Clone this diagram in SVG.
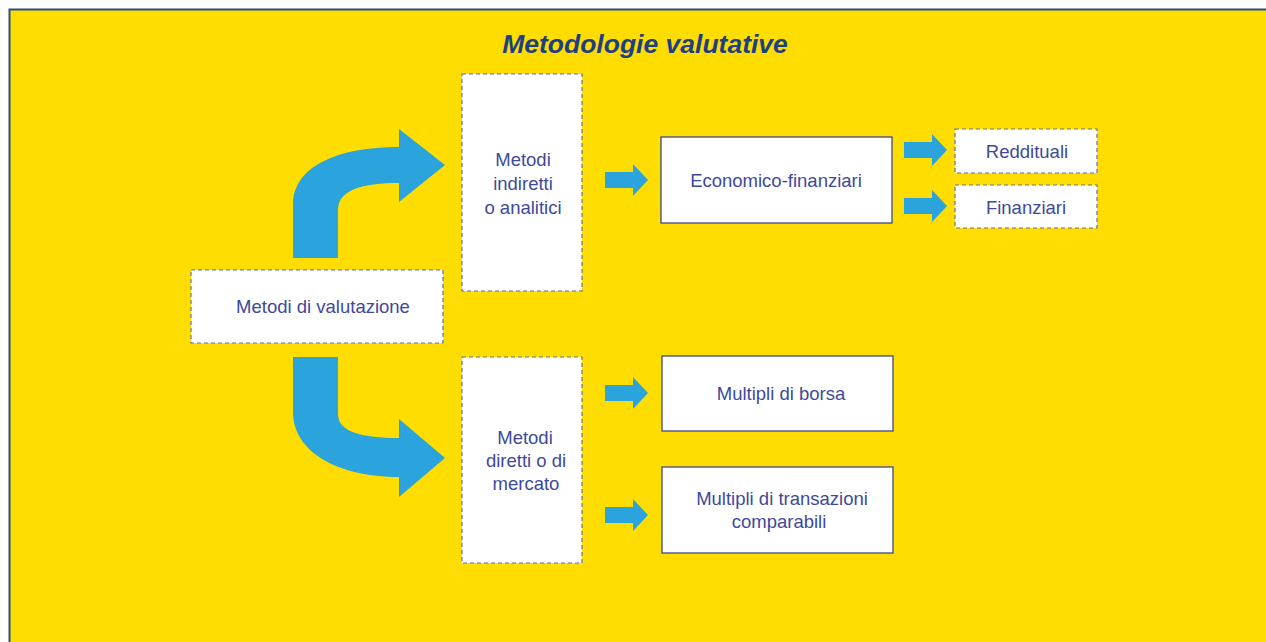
<svg xmlns="http://www.w3.org/2000/svg" width="1266" height="642" viewBox="0 0 1266 642">
<style>
.t{font-family:"Liberation Sans",Arial,sans-serif;font-size:18.5px;fill:#3d4a9c;text-anchor:middle}
.dash{fill:#fff;stroke:#6b6f9e;stroke-width:1.2;stroke-dasharray:4 3}
.solid{fill:#fff;stroke:#3d4a8c;stroke-width:1.3}
.arr{fill:#2ba3dc}
</style>
<defs>
<path id="sa" d="M0,-8 L28,-8 L28,-16 L43,0 L28,16 L28,8 L0,8 Z"/>
</defs>
<rect x="0" y="0" width="1266" height="642" fill="#fff"/>
<rect x="10" y="10" width="1266" height="642" fill="#ffdd00"/>
<path d="M9.5,642 L9.5,9.5 L1266,9.5" fill="none" stroke="#2b4f7e" stroke-width="2"/>
<text x="645" y="53" font-family="'Liberation Sans',Arial,sans-serif" font-size="26.5" font-weight="bold" font-style="italic" fill="#1d3f86" text-anchor="middle">Metodologie valutative</text>

<g id="connectors">
<path class="arr" d="M293,258 L293,205 C293,166 338,147 399,147 L399,129 L445,165 L399,202 L399,183 C362,183 338,190 338,210 L338,258 Z"/>
<path class="arr" d="M293,357 L293,412 C293,452 338,477 399,477 L399,497 L445,458 L399,419 L399,438 C362,438 338,432 338,414 L338,357 Z"/>
<use href="#sa" class="arr" x="605" y="180"/>
<use href="#sa" class="arr" x="904" y="150"/>
<use href="#sa" class="arr" x="904" y="206"/>
<use href="#sa" class="arr" x="605" y="393"/>
<use href="#sa" class="arr" x="605" y="515"/>
</g>

<g id="n-valutazione">
<rect class="dash" x="191" y="270" width="252" height="73"/>
<text class="t" x="323" y="313">Metodi di valutazione</text>
</g>
<g id="n-indiretti">
<rect class="dash" x="462" y="74" width="120" height="217"/>
<text class="t" x="523" y="166">Metodi</text>
<text class="t" x="523" y="190">indiretti</text>
<text class="t" x="523" y="214">o analitici</text>
</g>
<g id="n-diretti">
<rect class="dash" x="462" y="357" width="120" height="206"/>
<text class="t" x="525" y="444">Metodi</text>
<text class="t" x="526" y="467">diretti o di</text>
<text class="t" x="526" y="490">mercato</text>
</g>
<g id="n-economico">
<rect class="solid" x="661" y="137" width="231" height="86"/>
<text class="t" x="776" y="187">Economico-finanziari</text>
</g>
<g id="n-reddituali">
<rect class="dash" x="955" y="129" width="142" height="44"/>
<text class="t" x="1027" y="158">Reddituali</text>
</g>
<g id="n-finanziari">
<rect class="dash" x="955" y="185" width="142" height="43"/>
<text class="t" x="1026" y="214">Finanziari</text>
</g>
<g id="n-borsa">
<rect class="solid" x="662" y="356" width="231" height="75"/>
<text class="t" x="781" y="400">Multipli di borsa</text>
</g>
<g id="n-transazioni">
<rect class="solid" x="662" y="467" width="231" height="86"/>
<text class="t" x="782" y="505">Multipli di transazioni</text>
<text class="t" x="779" y="528">comparabili</text>
</g>
</svg>
